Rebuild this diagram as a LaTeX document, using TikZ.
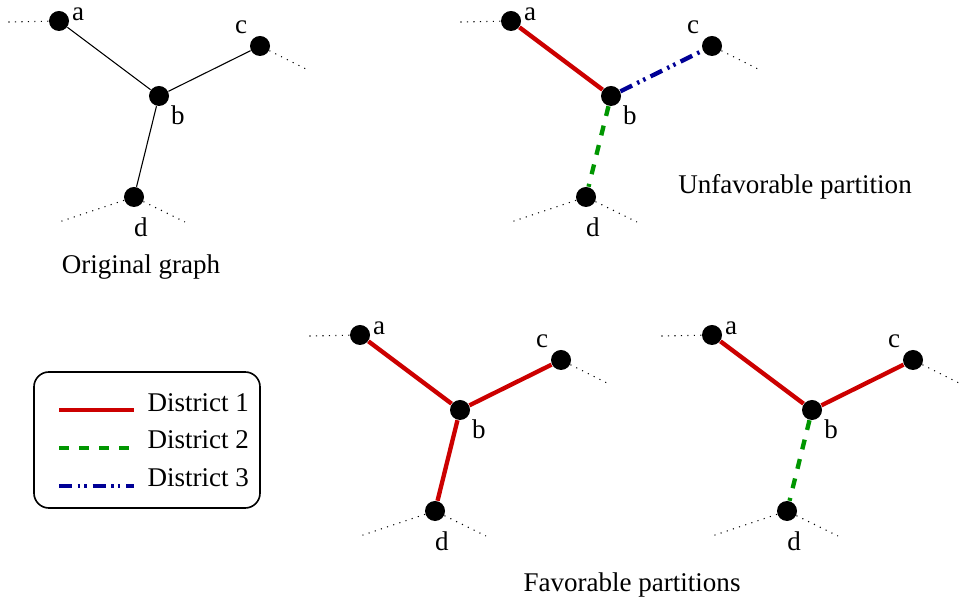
\documentclass[tikz,border=0pt]{standalone}
\usepackage{fontspec}
\setmainfont{Liberation Serif}
\usetikzlibrary{positioning}

\definecolor{distred}{RGB}{204,0,0}
\definecolor{distgreen}{RGB}{0,150,0}
\definecolor{distblue}{RGB}{0,0,150}

\tikzset{
    vertex/.style={circle,fill=black,inner sep=0pt,minimum size=7.4pt},
    lbl/.style={inner sep=0pt},
    plainedge/.style={line width=0.4pt},
    stub/.style={dotted,line width=0.4pt},
    district1/.style={distred,line width=1.6pt},
    district2/.style={distgreen,line width=1.6pt,dash pattern=on 3.7pt off 3.7pt},
    district3/.style={distblue,line width=1.6pt,dash pattern=on 4.8pt off 2.1pt on 0.9pt off 1.6pt on 0.9pt off 2.1pt},
}

% #1 name prefix, #2 shift, #3 a--b, #4 b--c, #5 b--d
\newcommand{\districtgraph}[5]{%
    \begin{scope}[shift={#2}]
        \node[vertex] (#1a) at (59,21) {};
        \node[vertex] (#1b) at (159,96) {};
        \node[vertex] (#1c) at (260,46) {};
        \node[vertex] (#1d) at (134,197) {};
        \node[lbl] (#1la) at (78,14) {a};
        \node[lbl] (#1lb) at (178,115) {b};
        \node[lbl] (#1lc) at (241,27) {c};
        \node[lbl] (#1ld) at (141,227) {d};
        \coordinate (#1sa) at (8,22);
        \coordinate (#1sc) at (310,71);
        \coordinate (#1sdl) at (59,222);
        \coordinate (#1sdr) at (185,222);
        \draw[stub] (#1a) -- (#1sa);
        \draw[stub] (#1c) -- (#1sc);
        \draw[stub] (#1d) -- (#1sdl);
        \draw[stub] (#1d) -- (#1sdr);
        \draw[#3] (#1a) -- (#1b);
        \draw[#4] (#1b) -- (#1c);
        \draw[#5] (#1b) -- (#1d);
    \end{scope}%
}

\begin{document}
\begin{tikzpicture}[x=0.013cm,y=-0.013cm]
    \useasboundingbox (0,0) rectangle (964,607);

    % original graph
    \districtgraph{o}{(0,0)}{plainedge}{plainedge}{plainedge}
    \node (origcap) at (141,267) {Original graph};

    % unfavorable partition
    \districtgraph{u}{(452,0)}{district1}{district3}{district2}
    \node (unfcap) at (795,187) {Unfavorable partition};

    % favorable partitions
    \districtgraph{f}{(301,314)}{district1}{district1}{district1}
    \districtgraph{g}{(653,314)}{district1}{district1}{district2}
    \node (favcap) at (632,585) {Favorable partitions};

    % legend
    \draw[line width=0.6pt,rounded corners=5.5pt] (34,372) rectangle (260,508);
    \node[anchor=base west,inner sep=0pt] (leg1) at (147,412) {District 1};
    \node[anchor=base west,inner sep=0pt] (leg2) at (147,449) {District 2};
    \node[anchor=base west,inner sep=0pt] (leg3) at (147,487) {District 3};
    \draw[district1] (59,410) -- (134,410);
    \draw[district2] (59,448) -- (134,448);
    \draw[district3] (59,486) -- (134,486);
\end{tikzpicture}
\end{document}
